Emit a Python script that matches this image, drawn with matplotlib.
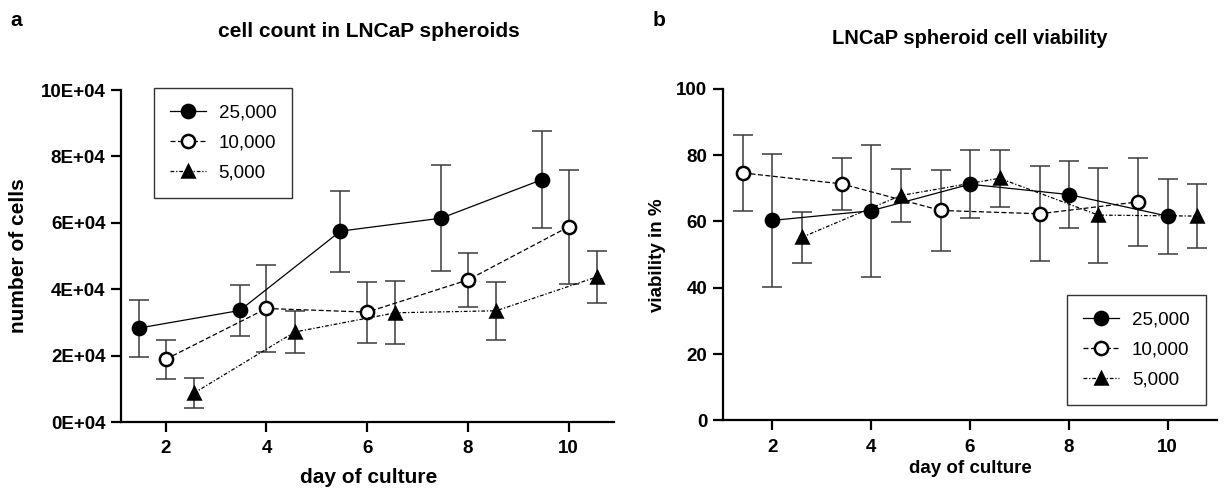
import matplotlib
matplotlib.use("Agg")
import matplotlib.pyplot as plt
from matplotlib.ticker import FuncFormatter
import numpy as np

plt.rcParams['font.family'] = ['Liberation Sans', 'DejaVu Sans']

# ---- data ----
days = [2, 4, 6, 8, 10]
series_labels = ["25,000", "10,000", "5,000"]

# panel a: cell count (in units of 1E+04)
count_25k = [2.83, 3.36, 5.75, 6.14, 7.30]
count_25k_sd = [0.86, 0.77, 1.22, 1.60, 1.47]
count_10k = [1.89, 3.42, 3.31, 4.28, 5.88]
count_10k_sd = [0.58, 1.30, 0.92, 0.82, 1.71]
count_5k = [0.87, 2.71, 3.29, 3.35, 4.37]
count_5k_sd = [0.45, 0.62, 0.95, 0.87, 0.79]

# panel b: viability in %
via_25k = [60.3, 63.2, 71.2, 68.1, 61.6]
via_25k_sd = [20.1, 19.9, 10.2, 10.2, 11.3]
via_10k = [74.6, 71.3, 63.3, 62.3, 65.9]
via_10k_sd = [11.4, 7.8, 12.1, 14.3, 13.3]
via_5k = [55.2, 67.8, 73.0, 61.9, 61.6]
via_5k_sd = [7.6, 8.0, 8.6, 14.3, 9.6]

yticks_a = [0, 2, 4, 6, 8, 10]
yticks_b = [0, 20, 40, 60, 80, 100]

# ---- style ----
styles = [
    dict(marker='o', mfc='black', mec='black', ls='-', ms=9.5, dashes=()),
    dict(marker='o', mfc='white', mec='black', ls='--', ms=9.5, dashes=(4, 2)),
    dict(marker='^', mfc='black', mec='black', ls='-.', ms=8.5, dashes=(3, 1.5, 1, 1.5)),
]
ecolor = '#3a3a3a'

fig = plt.figure(figsize=(12.25, 4.91), dpi=100)
ax_a = fig.add_axes([0.0985, 0.1405, 0.4027, 0.6762])
ax_b = fig.add_axes([0.590, 0.1436, 0.4035, 0.6758])


def draw(ax, offsets, ys, sds):
    handles = []
    for off, y, sd, st, lab in zip(offsets, ys, sds, styles, series_labels):
        x = np.array(days) + off
        ax.errorbar(x, y, yerr=sd, fmt='none', ecolor=ecolor, elinewidth=1.1,
                    capsize=7, capthick=1.1, zorder=2, clip_on=False)
        ln, = ax.plot(x, y, color='black', lw=0.9, linestyle=st['ls'],
                      marker=st['marker'], ms=st['ms'], mfc=st['mfc'], mec=st['mec'],
                      mew=1.8, zorder=3, clip_on=False, label=lab)
        if st['dashes']:
            ln.set_dashes(st['dashes'])
        handles.append(ln)
    return handles


def style_axes(ax):
    for s in ['top', 'right']:
        ax.spines[s].set_visible(False)
    for s in ['left', 'bottom']:
        ax.spines[s].set_linewidth(1.6)
    ax.tick_params(axis='both', width=1.6, length=7, direction='out',
                   labelsize=13.5, pad=4)
    ax.tick_params(axis='x', pad=6)
    for lab in ax.get_xticklabels() + ax.get_yticklabels():
        lab.set_fontweight('bold')


# panel a
ha = draw(ax_a, [-0.53, 0.0, 0.56], [count_25k, count_10k, count_5k],
          [count_25k_sd, count_10k_sd, count_5k_sd])
ax_a.set_xlim(1.105, 10.9)
ax_a.set_ylim(0, 10)
ax_a.set_xticks(days)
ax_a.set_yticks(yticks_a)
ax_a.yaxis.set_major_formatter(FuncFormatter(lambda v, p: f"{int(round(v))}E+04"))
style_axes(ax_a)

# panel b
hb = draw(ax_b, [0.0, -0.59, 0.6], [via_25k, via_10k, via_5k],
          [via_25k_sd, via_10k_sd, via_5k_sd])
ax_b.set_xlim(1.0, 11.0)
ax_b.set_ylim(0, 100)
ax_b.set_xticks(days)
ax_b.set_yticks(yticks_b)
style_axes(ax_b)

leg_kw = dict(frameon=True, fancybox=False, edgecolor='black', fontsize=13.5,
              handlelength=1.9, handletextpad=0.7, labelspacing=0.7,
              borderpad=0.85, borderaxespad=0)
la = ax_a.legend(handles=ha, loc='upper left', bbox_to_anchor=(0.0675, 1.006), **leg_kw)
la.get_frame().set_linewidth(1.0)
lb = ax_b.legend(handles=hb, loc='upper left', bbox_to_anchor=(0.697, 0.378), **leg_kw)
lb.get_frame().set_linewidth(1.0)

# labels
fig.text(0.301, 0.935, "cell count in LNCaP spheroids", ha='center', va='center',
         fontsize=15, fontweight='bold')
fig.text(0.792, 0.922, "LNCaP spheroid cell viability", ha='center', va='center',
         fontsize=14.5, fontweight='bold')
fig.text(0.0147, 0.48, "number of cells", rotation=90, ha='center', va='center',
         fontsize=15, fontweight='bold')
fig.text(0.537, 0.48, "viability in %", rotation=90, ha='center', va='center',
         fontsize=13.5, fontweight='bold')
fig.text(0.301, 0.027, "day of culture", ha='center', va='center',
         fontsize=15, fontweight='bold')
fig.text(0.792, 0.045, "day of culture", ha='center', va='center',
         fontsize=13.5, fontweight='bold')
fig.text(0.0135, 0.958, "a", ha='center', va='center', fontsize=15, fontweight='bold')
fig.text(0.538, 0.958, "b", ha='center', va='center', fontsize=15, fontweight='bold')

fig.savefig("out.png", dpi=100)
